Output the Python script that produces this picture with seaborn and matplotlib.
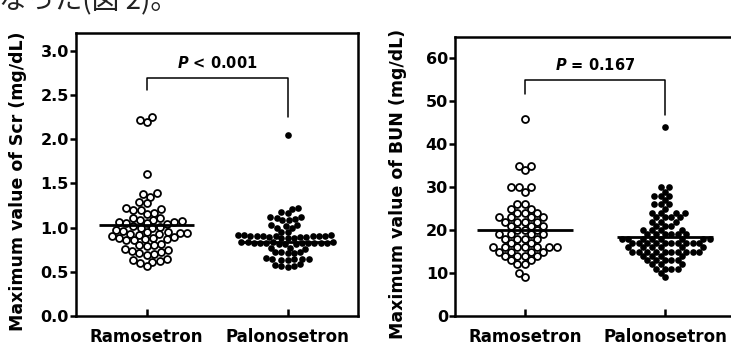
import numpy as np
import pandas as pd
import seaborn as sns
from matplotlib import pyplot as plt
from matplotlib.collections import PathCollection

groups = ['Ramosetron', 'Palonosetron']

# maximum serum creatinine (mg/dL)
scr_ramo = [2.25, 2.22, 2.19, 1.61, 1.39, 1.38, 1.35, 1.29, 1.28,
            1.22, 1.21, 1.20, 1.20, 1.17, 1.15, 1.11, 1.11, 1.09, 1.09,
            1.07, 1.06, 1.06, 1.05, 1.05, 1.04, 1.02, 1.01, 1.00, 1.00,
            0.97, 0.96, 0.95, 0.95, 0.94, 0.94, 0.93, 0.93, 0.92,
            0.90, 0.89, 0.88, 0.88, 0.87, 0.87, 0.86, 0.86,
            0.81, 0.80, 0.80, 0.79, 0.76, 0.75,
            0.73, 0.72, 0.71, 0.70, 0.69,
            0.64, 0.63, 0.62, 0.61, 0.60, 0.56]
scr_palo = [2.05, 1.22, 1.21, 1.18, 1.16, 1.12, 1.12, 1.11, 1.10,
            1.08, 1.08, 1.03, 1.03, 1.02, 1.00, 1.00, 0.95, 0.95,
            0.92, 0.92, 0.92, 0.91, 0.91, 0.91,
            0.90, 0.90, 0.90, 0.90,
            0.89, 0.89, 0.89, 0.88, 0.88, 0.88,
            0.84, 0.84, 0.84, 0.84, 0.83, 0.83, 0.83, 0.83,
            0.82, 0.82, 0.82, 0.82, 0.81, 0.81, 0.81,
            0.77, 0.77, 0.76, 0.72, 0.72, 0.72, 0.71, 0.71,
            0.66, 0.65, 0.65, 0.64, 0.64, 0.63, 0.63,
            0.59, 0.58, 0.57, 0.56, 0.55]
scr_means = [1.03, 0.84]

# maximum blood urea nitrogen (mg/dL)
bun_ramo = [46, 35, 35, 34, 30, 30, 30, 29, 26, 26, 25, 25,
            24, 24, 24, 23, 23, 23, 23, 22, 22, 22, 22, 21, 21, 21,
            20, 20, 20, 19, 19, 19, 19, 18, 18, 18, 18, 17, 17,
            16, 16, 16, 16, 16, 16, 16, 15, 15, 15, 15,
            14, 14, 14, 14, 13, 13, 12, 12, 10, 9]
bun_palo = [44, 30, 30, 29, 28, 28, 28, 27, 26, 26, 26, 25,
            24, 24, 24, 24, 23, 23, 23, 23, 22, 22, 22, 21, 21, 21,
            20, 20, 20, 20, 19, 19, 19, 19, 19, 19,
            18, 18, 18, 18, 18, 18, 18, 18,
            17, 17, 17, 17, 17, 17, 17, 17, 17, 17,
            16, 16, 16, 16, 16, 16,
            15, 15, 15, 15, 15, 15, 15, 15, 15, 15,
            14, 14, 14, 14, 13, 13, 13, 13, 13, 12, 12, 12,
            11, 11, 11, 11, 10, 9]
bun_means = [20.1, 18.4]

scr_ticks = [0.0, 0.5, 1.0, 1.5, 2.0, 2.5, 3.0]
bun_ticks = [0, 10, 20, 30, 40, 50, 60]

OPEN_SIZE = 5.0
DOT_SIZE = 4.8
# swarms are packed a bit tighter than the drawn markers (Prism style)
PACK_OPEN = 0.82
PACK_DOT = 0.9

sns.set_style('ticks')
plt.rcParams['font.family'] = ['DejaVu Sans', 'Noto Sans CJK JP']
plt.rcParams['font.weight'] = 'bold'
plt.rcParams['text.color'] = 'black'
plt.rcParams['axes.labelcolor'] = 'black'
plt.rcParams['xtick.color'] = 'black'
plt.rcParams['ytick.color'] = 'black'
plt.rcParams['mathtext.fontset'] = 'custom'
plt.rcParams['mathtext.rm'] = 'DejaVu Sans:bold'
plt.rcParams['mathtext.it'] = 'DejaVu Sans:italic:bold'


def panel(ax, ramo, palo, means, ticks, ylim, fmt, ylabel, brk, ptext):
    df = pd.DataFrame({'group': ['Ramosetron'] * len(ramo) + ['Palonosetron'] * len(palo),
                       'value': ramo + palo})
    ax.set_ylim(*ylim)
    sns.swarmplot(data=df[df.group == 'Ramosetron'], x='group', y='value', order=groups,
                  ax=ax, size=OPEN_SIZE * PACK_OPEN, color='white', edgecolor='black',
                  linewidth=1.3 * PACK_OPEN)
    sns.swarmplot(data=df[df.group == 'Palonosetron'], x='group', y='value', order=groups,
                  ax=ax, size=DOT_SIZE * PACK_DOT, color='black', linewidth=0)
    for i, m in enumerate(means):
        ax.hlines(m, i - 0.34, i + 0.34, color='black', lw=2, zorder=5)

    # significance bracket
    y_left, y_top, y_right, y_text = brk
    ax.plot([0, 0, 1, 1], [y_left, y_top, y_top, y_right], color='black', lw=1.1, clip_on=False)
    ax.text(0.5, y_text, ptext, ha='center', va='baseline', fontsize=10.5, fontweight='bold')

    ax.set_xlim(-0.5, 1.5)
    ax.set_ylim(*ylim)
    ax.set_yticks(ticks)
    ax.set_yticklabels([fmt.format(t) for t in ticks])
    ax.set_xlabel('')
    ax.set_ylabel(ylabel, fontsize=12.5, fontweight='bold', labelpad=0)
    ax.yaxis.set_label_coords(-0.172, 0.475)
    ax.tick_params(axis='y', direction='out', length=4, width=1.8, labelsize=11.5, pad=1)
    ax.tick_params(axis='x', direction='in', length=5, width=1.8, labelsize=12, pad=9)
    for s in ax.spines.values():
        s.set_linewidth(1.8)
        s.set_color('black')


def enlarge_markers(ax):
    # freeze the swarm positions and redraw the markers at full size
    for coll in list(ax.collections):
        if not isinstance(coll, PathCollection):
            continue
        offs = np.asarray(coll.get_offsets())
        if len(offs) == 0:
            continue
        is_open = coll.get_facecolor()[0][0] > 0.5
        coll.remove()
        if is_open:
            ax.scatter(offs[:, 0], offs[:, 1], s=OPEN_SIZE ** 2, facecolor='white',
                       edgecolor='black', linewidth=1.3, zorder=3)
        else:
            ax.scatter(offs[:, 0], offs[:, 1], s=DOT_SIZE ** 2, facecolor='black',
                       linewidth=0, zorder=3)


fig = plt.figure(figsize=(7.31, 3.49), dpi=100)
ax1 = fig.add_axes([76 / 731, 33 / 349, 282 / 731, 283 / 349])
ax2 = fig.add_axes([455 / 731, 33 / 349, 280 / 731, 279 / 349])

panel(ax1, scr_ramo, scr_palo, scr_means, scr_ticks, (0, 3.2), '{:.1f}',
      'Maximum value of Scr (mg/dL)', (2.56, 2.69, 2.25, 2.80), r'$P$ < 0.001')
panel(ax2, bun_ramo, bun_palo, bun_means, bun_ticks, (0, 65), '{:d}',
      'Maximum value of BUN (mg/dL)', (51.8, 55.0, 46.8, 57.3), r'$P$ = 0.167')

fig.canvas.draw()
enlarge_markers(ax1)
enlarge_markers(ax2)

# fragment of the surrounding page text, cut off at the top
fig.text(-0.002, 1 - 9 / 349, 'なった(図 2)。', fontsize=20, fontweight='normal',
         family=['Noto Sans CJK JP', 'DejaVu Sans'], color='#222222', va='baseline')

fig.savefig('out.png', dpi=100)
